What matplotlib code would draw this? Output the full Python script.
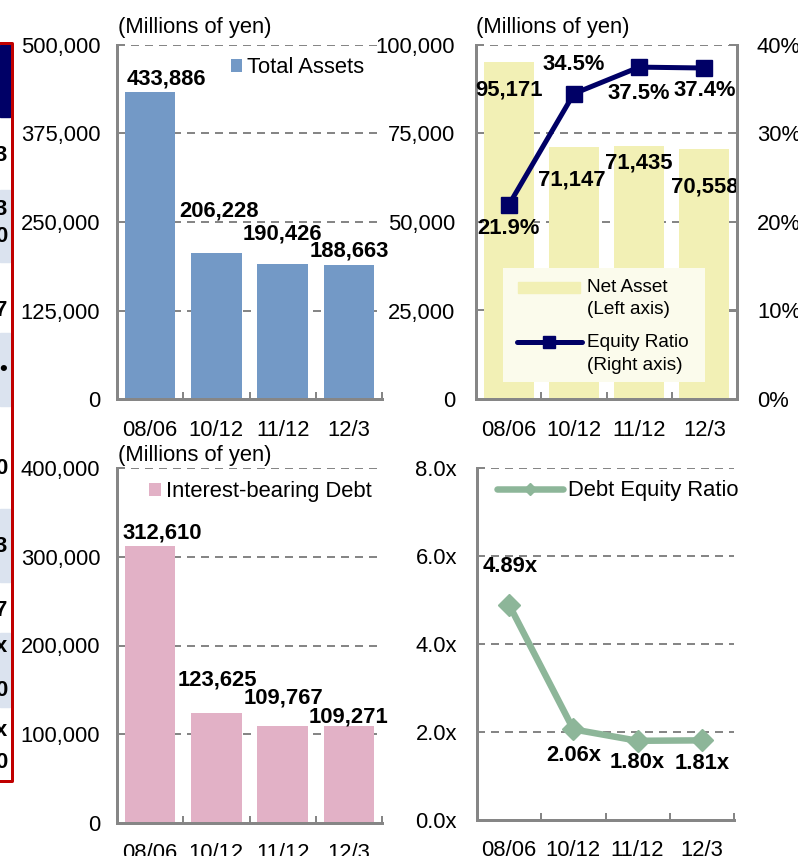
import numpy as np
import matplotlib
matplotlib.use("Agg")
import matplotlib.pyplot as plt
from matplotlib.patches import Rectangle
from matplotlib.lines import Line2D
from matplotlib.ticker import FuncFormatter

plt.rcParams['font.family'] = ['Liberation Sans', 'DejaVu Sans']

# fiscal periods and values (millions of yen)
periods = ['08/06', '10/12', '11/12', '12/3']
total_assets = [433886, 206228, 190426, 188663]
net_assets = [95171, 71147, 71435, 70558]
equity_ratio = [21.9, 34.5, 37.5, 37.4]
debt = [312610, 123625, 109767, 109271]
de_ratio = [4.89, 2.06, 1.80, 1.81]

W, H = 798, 856
PX = 72 / 100  # points per pixel
FS = 22 * PX
LFS = 19 * PX
GRAY = '#868686'
NAVY = '#000066'
BLUE = '#7399C6'
PINK = '#E2B1C6'
YELLOW = '#F2F0B5'
GREEN = '#8DB699'

fig = plt.figure(figsize=(W / 100, H / 100), dpi=100)


def px_axes(left, right, top, bottom):
    return fig.add_axes([left / W, 1 - bottom / H, (right - left) / W, (bottom - top) / H])


def style(ax, ymax, step, fmt, ypad, xpad):
    ax.set_xlim(-0.5, 3.5)
    ax.set_ylim(0, ymax)
    ax.set_yticks(np.arange(0, ymax + step / 2, step))
    ax.yaxis.set_major_formatter(FuncFormatter(fmt))
    ax.set_xticks([0.5, 1.5, 2.5, 3.5])
    ax.set_xticks(range(len(periods)), minor=True)
    ax.set_xticklabels(periods, minor=True)
    ax.tick_params(axis='x', which='major', direction='in', length=5, width=2 * PX,
                   color=GRAY, labelbottom=False)
    ax.tick_params(axis='x', which='minor', length=0, pad=xpad, labelsize=FS)
    ax.tick_params(axis='y', direction='in', length=6, width=2 * PX, color=GRAY,
                   labelsize=FS, pad=ypad)
    ax.yaxis.grid(True, linestyle=(0, (4, 3)), color=GRAY, linewidth=2 * PX)
    ax.set_axisbelow(True)
    for s in ['top', 'right']:
        ax.spines[s].set_visible(False)
    for s in ['left', 'bottom']:
        ax.spines[s].set_color(GRAY)
        ax.spines[s].set_linewidth(3 * PX)


def label(ax, xs, ys, texts, offsets):
    for x, y, t, (dx, dy) in zip(xs, ys, texts, offsets):
        ax.annotate(t, (x, y), xytext=(dx, dy), textcoords='offset pixels',
                    ha='center', va='center', fontsize=FS, fontweight='bold',
                    annotation_clip=False)


def thousands(v, pos):
    return f'{v:,.0f}'


x = np.arange(len(periods))

# edge of the neighbouring table, cut off at the left border
bg = fig.add_axes([0, 0, 1, 1], zorder=-5)
bg.set_xlim(0, W)
bg.set_ylim(H, 0)
bg.axis('off')
bg.add_patch(Rectangle((0, 45), 10, 72, color=NAVY))
for y0, y1 in [(190, 262), (333, 406), (509, 582), (633, 707)]:
    bg.add_patch(Rectangle((0, y0), 10, y1 - y0, color='#DBE3EF'))
bg.plot([0, 11.5, 11.5, 0], [43, 43, 781, 781], color='#C00000', lw=3 * PX)
for y, ch in [(155, '3'), (209, '3'), (236, '0'), (310, '7'), (369, '•'),
              (468, '0'), (547, '3'), (610, '7'), (647, 'x'), (690, '0'),
              (730, 'x'), (763, '0')]:
    bg.text(7, y, ch, ha='right', va='center', fontsize=FS, fontweight='bold')

# Total assets
ax1 = px_axes(117, 382, 45, 399)
style(ax1, 500000, 125000, thousands, 12, 15)
b1 = ax1.bar(x, total_assets, width=0.76, color=BLUE)
label(ax1, x, total_assets, [f'{v:,}' for v in total_assets],
      [(16, 13), (3, 42), (0, 30), (0, 14)])
ax1.legend([b1], ['Total Assets'], loc='upper left', bbox_to_anchor=(0.43, 0.965),
           frameon=False, handlelength=0.5, handleheight=0.5, handletextpad=0.25,
           borderpad=0, borderaxespad=0, fontsize=FS)
fig.text(118 / W, 1 - 28 / H, '(Millions of yen)', fontsize=FS, va='center')

# Net assets and equity ratio
ax2 = px_axes(476, 737, 45, 399)
style(ax2, 100000, 25000, thousands, 15, 15)
ax2.bar(x, net_assets, width=0.77, color=YELLOW)
ax2r = ax2.twinx()
ax2r.set_ylim(0, 40)
ax2r.set_yticks(np.arange(0, 41, 10))
ax2r.yaxis.set_major_formatter(FuncFormatter(lambda v, p: f'{v:.0f}%'))
ax2r.tick_params(axis='y', direction='in', length=6, width=2 * PX, color=GRAY,
                 labelsize=FS, pad=14.4)
for s in ['top', 'left', 'bottom']:
    ax2r.spines[s].set_visible(False)
ax2r.spines['right'].set_color(GRAY)
ax2r.spines['right'].set_linewidth(3 * PX)
ax2r.plot(x, equity_ratio, color=NAVY, lw=5 * PX, marker='s', ms=12, zorder=3)
label(ax2, x, net_assets, [f'{v:,}' for v in net_assets],
      [(0, -28), (-2, -33), (0, -17), (0, -38)])
label(ax2r, x, equity_ratio, [f'{v:.1f}%' for v in equity_ratio],
      [(0, -23), (0, 29), (0, -26), (0, -22)])

# legend box: handle beside the first line of a two-line caption
ta = ax2r.transAxes
ax2r.add_patch(Rectangle((0.103, 0.048), 0.774, 0.322, transform=ta,
                         facecolor='#FBFBEC', edgecolor='none', zorder=1))
ax2r.add_patch(Rectangle((0.161, 0.2994), 0.237, 0.031, transform=ta,
                         color=YELLOW, zorder=2))
ax2r.add_line(Line2D([0.157, 0.406], [0.161, 0.161], transform=ta, color=NAVY,
                     lw=5 * PX, solid_capstyle='round', zorder=2))
ax2r.add_line(Line2D([0.2815], [0.161], transform=ta, color=NAVY, marker='s',
                     ms=8.5, zorder=2))
for ty, t in [(0.316, 'Net Asset'), (0.254, '(Left axis)'),
              (0.161, 'Equity Ratio'), (0.096, '(Right axis)')]:
    ax2r.text(0.425, ty, t, transform=ta, ha='left', va='center', fontsize=LFS,
              zorder=2)
fig.text(476 / W, 1 - 28 / H, '(Millions of yen)', fontsize=FS, va='center')

# Interest-bearing debt
ax3 = px_axes(117, 382, 468, 823)
style(ax3, 400000, 100000, thousands, 12, 14.5)
b3 = ax3.bar(x, debt, width=0.76, color=PINK)
label(ax3, x, debt, [f'{v:,}' for v in debt],
      [(12, 13), (1, 33), (1, 28), (0, 9)])
ax3.legend([b3], ['Interest-bearing Debt'], loc='upper left',
           bbox_to_anchor=(0.121, 0.962), frameon=False, handlelength=0.55,
           handleheight=0.55, handletextpad=0.2, borderpad=0, borderaxespad=0,
           fontsize=FS)
fig.text(118 / W, 1 - 455 / H, '(Millions of yen)', fontsize=FS, va='center')

# Debt equity ratio
ax4 = px_axes(477, 734, 468, 820)
style(ax4, 8, 2, lambda v, p: f'{v:.1f}x', 14.4, 14.5)
ax4.plot(x, de_ratio, color=GREEN, lw=6.5 * PX, marker='D', ms=11.5,
         solid_capstyle='round')
label(ax4, x, de_ratio, [f'{v:.2f}x' for v in de_ratio],
      [(1, 38), (0, -26), (0, -22), (0, -23)])
h_de = Line2D([], [], color=GREEN, lw=6.5 * PX, marker='D', ms=6,
              solid_capstyle='round')
ax4.legend([h_de], ['Debt Equity Ratio'], loc='upper left',
           bbox_to_anchor=(0.078, 0.965), frameon=False, handlelength=3.0,
           handletextpad=0.23, numpoints=1, borderpad=0, borderaxespad=0,
           fontsize=FS)

fig.savefig('out.png', dpi=100)
